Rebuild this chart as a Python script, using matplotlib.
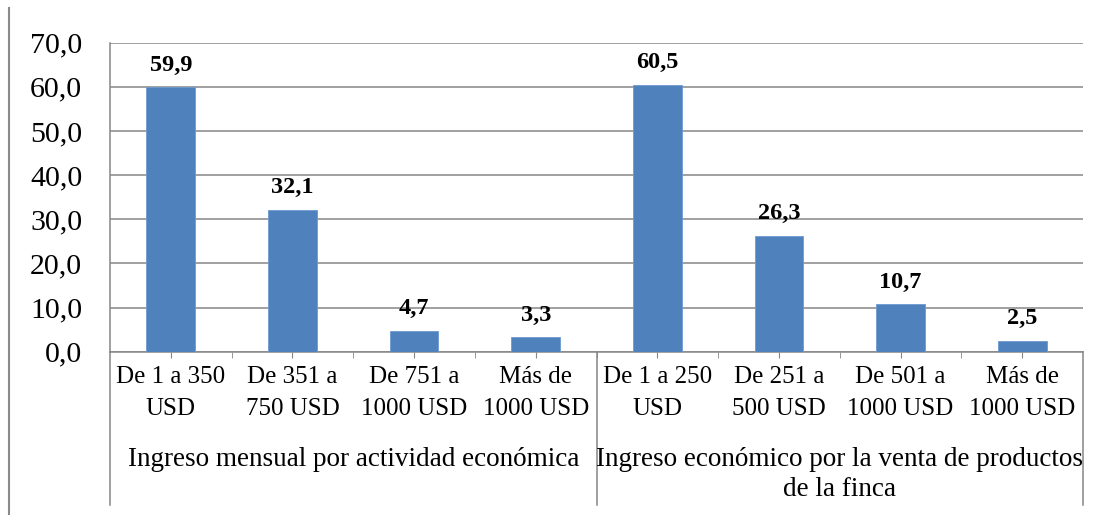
import matplotlib.pyplot as plt
from matplotlib.lines import Line2D
import matplotlib.transforms as mtransforms

plt.rcParams['font.family'] = ['Liberation Serif', 'DejaVu Serif']

categories = ["De 1 a 350\nUSD", "De 351 a\n750 USD", "De 751 a\n1000 USD", "Más de\n1000 USD",
              "De 1 a 250\nUSD", "De 251 a\n500 USD", "De 501 a\n1000 USD", "Más de\n1000 USD"]
values = [59.9, 32.1, 4.7, 3.3, 60.5, 26.3, 10.7, 2.5]
groups = ["Ingreso mensual por actividad económica",
          "Ingreso económico por la venta de productos\nde la finca"]
group_sizes = [4, 4]

grey = '#868686'
fig = plt.figure(figsize=(11.05, 5.15), dpi=100)
ax = fig.add_axes([110 / 1105, 163.3 / 515, 973 / 1105, 309 / 515])

x = list(range(len(values)))
ax.bar(x, values, width=0.4, color='#4F81BD', edgecolor='#6f9bd0', linewidth=0.6, zorder=3)
for xi, v in zip(x, values):
    ax.annotate(f"{v:.1f}".replace('.', ','), (xi, v), xytext=(0, 12), textcoords='offset points',
                ha='center', va='baseline', fontsize=17.5, fontweight='bold')

ax.set_xlim(-0.5, len(values) - 0.5)
ax.set_ylim(0, 70)
ax.set_yticks(range(0, 71, 10))
ax.set_yticklabels([f"{t},0" for t in range(0, 71, 10)], fontsize=21.5)
ax.tick_params(axis='y', length=0, pad=20)
ax.yaxis.grid(True, color=grey, linewidth=1.1, zorder=0)
ax.set_axisbelow(True)

ax.set_xticks(x)
ax.set_xticklabels([])
ax.set_xticks([i + 0.5 for i in range(len(values) - 1)], minor=True)
ax.tick_params(axis='x', which='both', length=4, color=grey, direction='out')

for s in ['top', 'right']:
    ax.spines[s].set_visible(False)
for s in ['left', 'bottom']:
    ax.spines[s].set_color(grey)
    ax.spines[s].set_linewidth(1.1)

trans = mtransforms.blended_transform_factory(ax.transData, ax.transAxes)
for xi, lab in zip(x, categories):
    ax.text(xi, -0.045, lab, transform=trans, ha='center', va='top', fontsize=18,
            linespacing=1.6, multialignment='center')

# group labels and separators under the axis
start = 0
bounds = [0]
for g, n in zip(groups, group_sizes):
    cx = start + n / 2 - 0.5
    ax.text(cx, -0.31, g, transform=trans, ha='center', va='top', fontsize=19.5,
            linespacing=1.25, multialignment='center')
    start += n
    bounds.append(start)
for b in bounds:
    ax.add_line(Line2D([b - 0.5, b - 0.5], [0, -0.495], transform=trans, color=grey,
                       linewidth=1.1, clip_on=False))

# outer frame line on the left
fig.add_artist(Line2D([9 / 1105, 9 / 1105], [0, 507 / 515], transform=fig.transFigure,
                      color='#8a8a8a', linewidth=1.5))

plt.savefig('out.png', dpi=100)
